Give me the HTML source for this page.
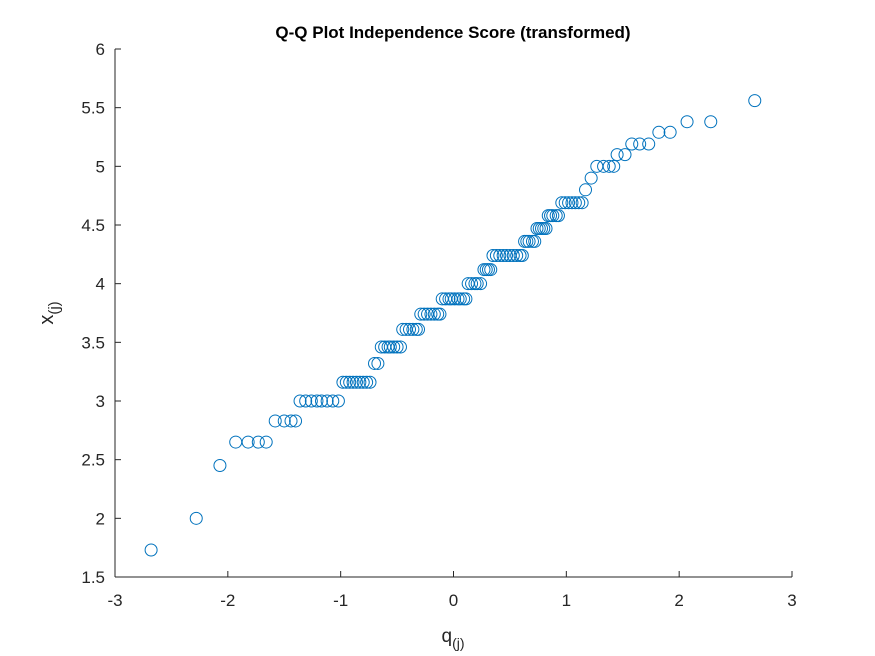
<!DOCTYPE html>
<html><head><meta charset="utf-8">
<style>
body{margin:0;background:#fff;}
svg{display:block;font-family:"Liberation Sans",Arial,sans-serif;}
</style></head>
<body>
<svg id="chart" width="875" height="656" viewBox="0 0 875 656">
<rect width="875" height="656" fill="#fff"/>
<g id="axes"></g>
<g id="marks"></g>
<text x="453" y="38" text-anchor="middle" font-size="17" font-weight="bold" fill="#000">Q-Q Plot Independence Score (transformed)</text>
<text x="453" y="642" text-anchor="middle" font-size="19" fill="#262626">q<tspan dy="6" font-size="14">(j)</tspan></text>
<text transform="translate(53,313) rotate(-90)" text-anchor="middle" font-size="20" fill="#262626">x<tspan dy="6" font-size="15">(j)</tspan></text>
</svg>
<script>
const qValues = [-2.68,-2.28,-2.07,
-1.93,-1.82,-1.73,-1.66,
-1.58,-1.50,-1.44,-1.40,
-1.36,-1.31,-1.26,-1.21,-1.17,-1.12,-1.07,-1.02,
-0.98,-0.95,-0.92,-0.89,-0.86,-0.83,-0.80,-0.77,-0.74,
-0.70,-0.67,
-0.64,-0.61,-0.58,-0.56,-0.53,-0.50,-0.47,
-0.45,-0.42,-0.39,-0.36,-0.33,-0.31,
-0.29,-0.26,-0.23,-0.20,-0.17,-0.14,-0.12,
-0.10,-0.07,-0.04,-0.02,0.01,0.04,0.06,0.09,0.11,
0.13,0.16,0.19,0.21,0.24,
0.27,0.29,0.31,0.33,
0.35,0.38,0.41,0.44,0.47,0.50,0.53,0.56,0.59,0.61,
0.63,0.65,0.67,0.70,0.72,
0.74,0.76,0.78,0.80,0.82,
0.84,0.86,0.88,0.91,0.93,
0.96,0.99,1.02,1.05,1.08,1.11,1.14,
1.17,1.22,
1.27,1.33,1.38,1.42,
1.45,1.52,
1.58,1.65,1.73,
1.82,1.92,
2.07,2.28,
2.67];
const xValues = [1.73,2.0,2.45,
2.65,2.65,2.65,2.65,
2.83,2.83,2.83,2.83,
3.0,3.0,3.0,3.0,3.0,3.0,3.0,3.0,
3.16,3.16,3.16,3.16,3.16,3.16,3.16,3.16,3.16,
3.32,3.32,
3.46,3.46,3.46,3.46,3.46,3.46,3.46,
3.61,3.61,3.61,3.61,3.61,3.61,
3.74,3.74,3.74,3.74,3.74,3.74,3.74,
3.87,3.87,3.87,3.87,3.87,3.87,3.87,3.87,3.87,
4.0,4.0,4.0,4.0,4.0,
4.12,4.12,4.12,4.12,
4.24,4.24,4.24,4.24,4.24,4.24,4.24,4.24,4.24,4.24,
4.36,4.36,4.36,4.36,4.36,
4.47,4.47,4.47,4.47,4.47,
4.58,4.58,4.58,4.58,4.58,
4.69,4.69,4.69,4.69,4.69,4.69,4.69,
4.80,4.90,
5.0,5.0,5.0,5.0,
5.10,5.10,
5.19,5.19,5.19,
5.29,5.29,
5.38,5.38,
5.56];
const xTicks = [-3,-2,-1,0,1,2,3];
const yTicks = [1.5,2,2.5,3,3.5,4,4.5,5,5.5,6];
const yTickLabels = ["1.5","2","2.5","3","3.5","4","4.5","5","5.5","6"];

const L=115,R=792,T=49,B=577;
const sx=v=>L+(v+3)/6*(R-L);
const sy=v=>B-(v-1.5)/4.5*(B-T);
const NS="http://www.w3.org/2000/svg";
const axes=document.getElementById('axes');
const marks=document.getElementById('marks');
function mk(tag,attrs,parent){const e=document.createElementNS(NS,tag);for(const k in attrs)e.setAttribute(k,attrs[k]);parent.appendChild(e);return e;}

let xa=mk('line',{x1:L,y1:B,x2:R,y2:B,stroke:'#262626','stroke-width':1},axes);


let ya=mk('line',{x1:L,y1:T,x2:L,y2:B,stroke:'#262626','stroke-width':1},axes);



xTicks.forEach(t=>{
  const x=sx(t);
  let tk=mk('line',{x1:x,y1:B,x2:x,y2:B-6,stroke:'#262626'},axes);
  
  
  let tl=mk('text',{x:x,y:B+29,'text-anchor':'middle','font-size':17,fill:'#262626'},axes);
  tl.textContent=String(t);
  
  
});
yTicks.forEach((t,i)=>{
  const y=sy(t);
  let tk=mk('line',{x1:L,y1:y,x2:L+6,y2:y,stroke:'#262626'},axes);
  
  
  let tl=mk('text',{x:L-10,y:y+6,'text-anchor':'end','font-size':17,fill:'#262626'},axes);
  tl.textContent=yTickLabels[i];
  
  
});
qValues.forEach((q,i)=>{
  let c=mk('circle',{cx:sx(q),cy:sy(xValues[i]),r:6,fill:'none',stroke:'#0072BD','stroke-width':1},marks);
  
  
});
</script>
</body></html>
